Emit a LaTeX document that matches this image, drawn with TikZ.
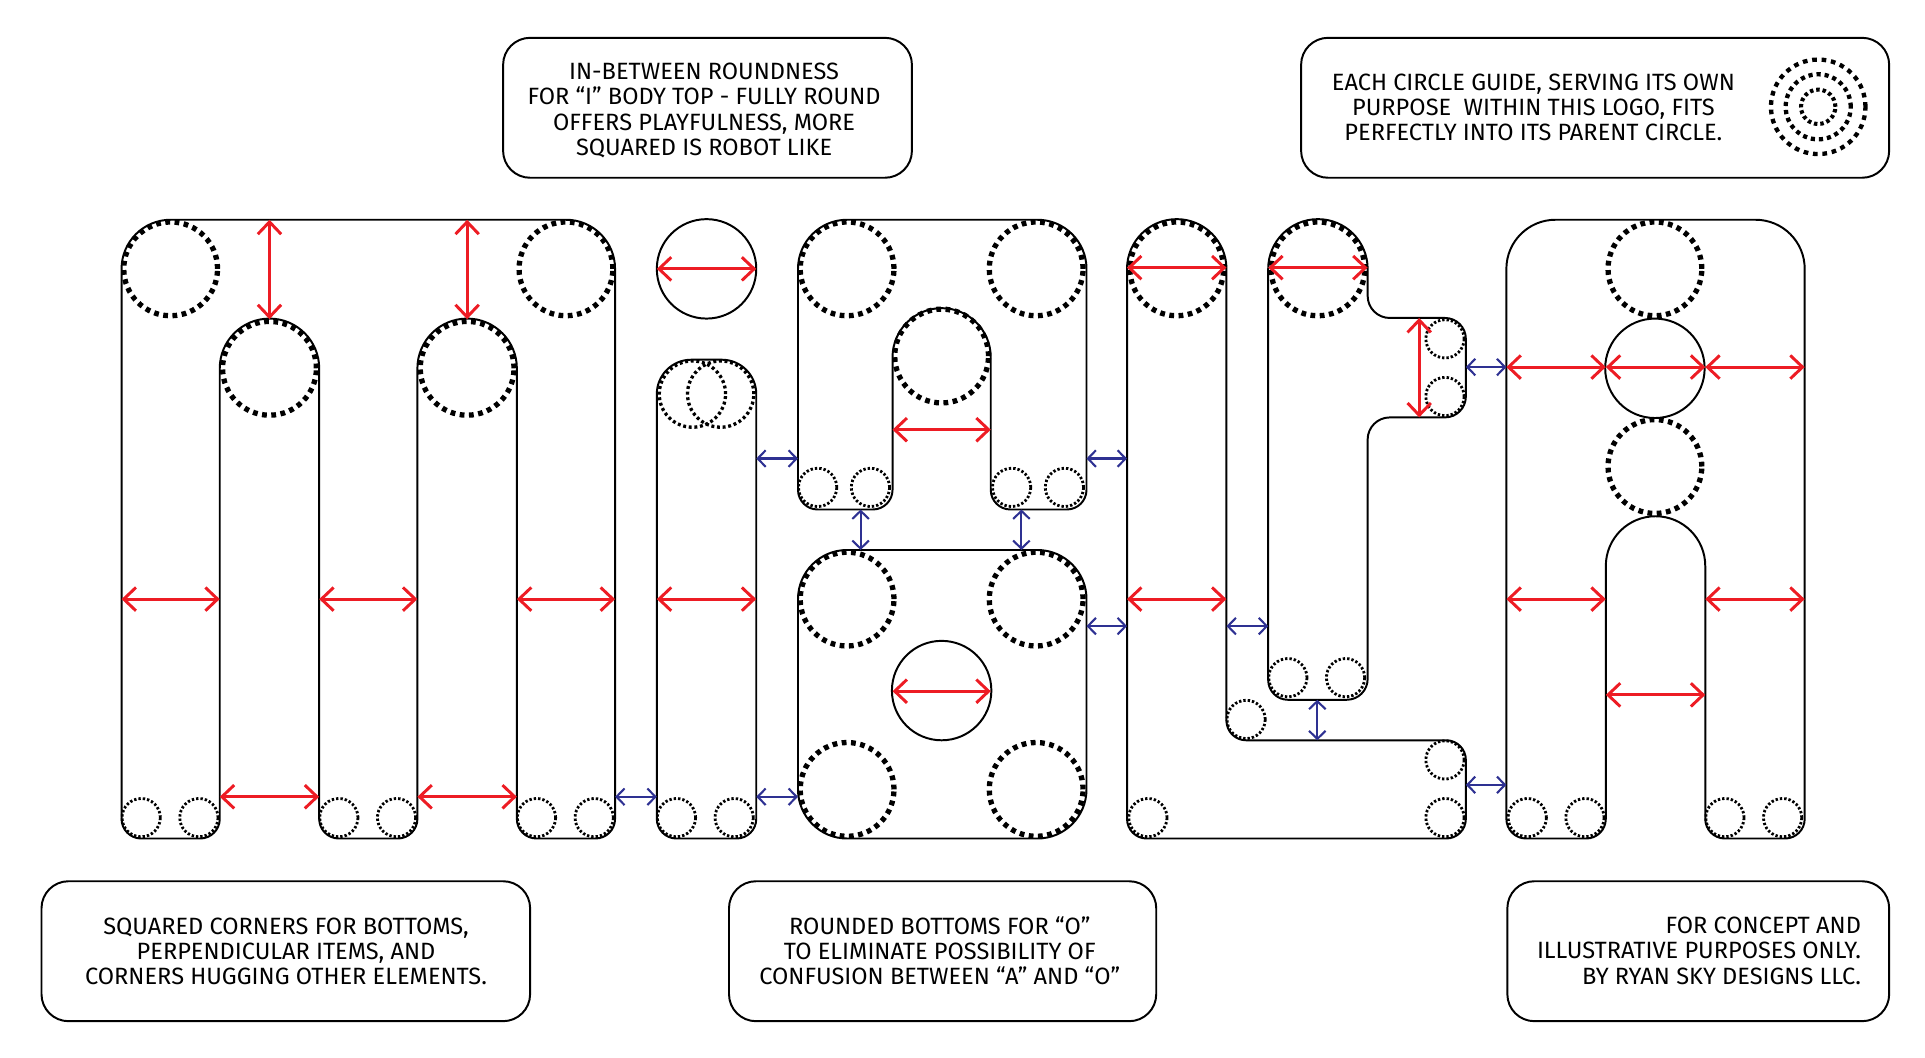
\documentclass[tikz,border=0pt]{standalone}
\usepackage{fontspec}
\setmainfont{Fira Sans}
\usetikzlibrary{arrows.meta}
\definecolor{rd}{HTML}{ED1C24}
\definecolor{bl}{HTML}{2E3192}
\newcommand\cUL[1]{arc[start angle=180,end angle=90,radius=#1pt]}
\newcommand\cRD[1]{arc[start angle=90,end angle=0,radius=#1pt]}
\newcommand\cDL[1]{arc[start angle=0,end angle=-90,radius=#1pt]}
\newcommand\cLU[1]{arc[start angle=270,end angle=180,radius=#1pt]}
\newcommand\cDR[1]{arc[start angle=180,end angle=270,radius=#1pt]}
\newcommand\cLD[1]{arc[start angle=90,end angle=180,radius=#1pt]}
\newcommand\cTop[1]{arc[start angle=0,end angle=180,radius=#1pt]}
\newcommand\cTopCW[1]{arc[start angle=180,end angle=0,radius=#1pt]}
\tikzset{
  body/.style={draw=black,line width=1.6pt,line join=round},
  capt/.style={draw=black,line width=1.6pt,rounded corners=22pt},
  bigc/.style={draw=black,line width=4.3pt,dash pattern=on 3.9pt off 3.66pt},
  midc/.style={draw=black,line width=3.5pt,dash pattern=on 3.4pt off 3.2pt},
  innerc/.style={draw=black,line width=3.3pt,dash pattern=on 2.8pt off 2.4pt},
  smallc/.style={draw=black,line width=2.3pt,dash pattern=on 1.9pt off 1.65pt},
  solidc/.style={draw=black,line width=1.6pt},
  redar/.style={draw=rd,line width=2.4pt,{Straight Barb[length=10pt,width=19pt,line width=2.4pt]}-{Straight Barb[length=10pt,width=19pt,line width=2.4pt]}},
  bluear/.style={draw=bl,line width=1.7pt,{Straight Barb[length=6.5pt,width=13.5pt,line width=1.7pt]}-{Straight Barb[length=6.5pt,width=13.5pt,line width=1.7pt]}},
  txt/.style={font=\fontsize{19.2}{20.6}\selectfont,inner sep=0pt}
}
\newcommand\BIG[2]{\path[bigc] (#1,#2) circle[radius=38.2pt];}
\newcommand\SM[2]{\path[smallc] (#1,#2) circle[radius=15.6pt];}
\newcommand\RA[4]{\path[redar] (#1,#2) -- (#3,#4);}
\newcommand\BA[4]{\path[bluear] (#1,#2) -- (#3,#4);}
\begin{document}
\begin{tikzpicture}[x=1pt,y=-1pt]
\useasboundingbox (0,0) rectangle (1568,861);
% M
\path[body] (99,667) -- (99,219) \cUL{40} -- (461,179) \cRD{40} -- (501,667) \cDL{16} -- (437,683) \cLU{16} -- (421,300) \cTop{40.5} -- (340,667) \cDL{16} -- (276,683) \cLU{16} -- (260,300) \cTop{40.5} -- (179,667) \cDL{16} -- (115,683) \cLU{16} -- cycle;
\BIG{139}{219}\BIG{219.5}{300}\BIG{380.5}{300}\BIG{461}{219}
\SM{115}{666}\SM{162}{666}\SM{276}{666}\SM{323}{666}\SM{437}{666}\SM{484}{666}
% I
\path[solidc] (575.5,219) circle[radius=40.5pt];
\path[body] (535,667) -- (535,321) \cUL{28} -- (588,293) \cRD{28} -- (616,667) \cDL{16} -- (551,683) \cLU{16} -- cycle;
\path[draw=black,line width=2.7pt,dash pattern=on 2.4pt off 2.2pt] (564,321) circle[radius=27pt];
\path[draw=black,line width=2.7pt,dash pattern=on 2.4pt off 2.2pt] (587,321) circle[radius=27pt];
\SM{551}{666}\SM{598}{666}
% A top
\path[body] (650,399) -- (650,219) \cUL{40} -- (845,179) \cRD{40} -- (885,399) \cDL{16} -- (823,415) \cLU{16} -- (807,291) \cTop{40} -- (727,399) \cDL{16} -- (666,415) \cLU{16} -- cycle;
\BIG{690}{219}\BIG{844}{219}\BIG{767}{290}
\SM{666}{397}\SM{709}{397}\SM{824}{397}\SM{867}{397}
% O
\path[body] (650,643) -- (650,488) \cUL{40} -- (845,448) \cRD{40} -- (885,643) \cDL{40} -- (690,683) \cLU{40} -- cycle;
\BIG{690}{488}\BIG{844}{488}\BIG{690}{643}\BIG{844}{643}
\path[solidc] (767,562.5) circle[radius=40.5pt];
% L
\path[body] (918,667) -- (918,219) \cTopCW{40.5} -- (999,587) \cDR{16} -- (1178,603) \cRD{16} -- (1194,667) \cDL{16} -- (934,683) \cLU{16} -- cycle;
\BIG{958.5}{219}
\SM{1015}{586}\SM{1177}{619}\SM{1177}{666}\SM{935}{666}
% T
\path[body] (1033,553) -- (1033,219) \cTopCW{40.5} -- (1114,241) \cDR{18} -- (1177,259) \cRD{17} -- (1194,323) \cDL{17} -- (1132,340) \cLD{18} -- (1114,553) \cDL{17} -- (1049,570) \cLU{16} -- cycle;
\BIG{1073.5}{219}
\SM{1177}{276}\SM{1177}{323}\SM{1049}{552}\SM{1096}{552}
% A right
\path[body] (1227,667) -- (1227,219) \cUL{40} -- (1430,179) \cRD{40} -- (1470,667) \cDL{16} -- (1405,683) \cLU{16} -- (1389,461) \cTop{40.5} -- (1308,667) \cDL{16} -- (1243,683) \cLU{16} -- cycle;
\BIG{1348}{219}\BIG{1348}{380}
\path[solidc] (1348,300) circle[radius=40.5pt];
\SM{1244}{666}\SM{1291}{666}\SM{1405}{666}\SM{1452}{666}
% red arrows
\RA{219.5}{179}{219.5}{260}\RA{380.5}{179}{380.5}{260}
\RA{99}{488}{179}{488}\RA{260}{488}{340}{488}\RA{421}{488}{501}{488}
\RA{179}{649}{260}{649}\RA{340}{649}{421}{649}
\RA{535}{219}{616}{219}\RA{535}{488}{616}{488}
\RA{727}{350}{807}{350}\RA{727}{563}{807}{563}
\RA{918}{218}{999}{218}\RA{918}{488}{999}{488}
\RA{1033}{218}{1114}{218}\RA{1156}{259}{1156}{340}
\RA{1227}{299}{1308}{299}\RA{1308}{299}{1389}{299}\RA{1389}{299}{1470}{299}
\RA{1227}{488}{1308}{488}\RA{1389}{488}{1470}{488}\RA{1308}{566}{1389}{566}
% blue arrows
\BA{501}{649}{535}{649}\BA{616}{649}{650}{649}\BA{616}{373.5}{650}{373.5}
\BA{885}{373.5}{918}{373.5}\BA{885}{510}{918}{510}\BA{999}{510}{1033}{510}
\BA{701}{415}{701}{448}\BA{832}{415}{832}{448}\BA{1073}{570}{1073}{603}
\BA{1194}{299}{1227}{299}\BA{1194}{639.3}{1227}{639.3}
% captions
\node[capt,minimum width=333pt,minimum height=114pt,anchor=north west] (c1) at (409,30) {};
\node[txt,align=center] (t1) at (573.5,90) {IN-BETWEEN ROUNDNESS\\FOR “I” BODY TOP - FULLY ROUND\\OFFERS PLAYFULNESS, MORE\\SQUARED IS ROBOT LIKE};
\node[capt,minimum width=479pt,minimum height=114pt,anchor=north west] (c2) at (1059,30) {};
\node[txt,align=center] (t2) at (1249,87.5) {EACH CIRCLE GUIDE, SERVING ITS OWN\\PURPOSE~~WITHIN THIS LOGO, FITS\\PERFECTLY INTO ITS PARENT CIRCLE.};
\path[bigc,line width=3.5pt,dash pattern=on 3.8pt off 3.9pt] (1481,87) circle[radius=38.5pt];
\path[midc] (1481,87) circle[radius=26.5pt];
\path[innerc] (1481,87) circle[radius=14pt];
\node[capt,minimum width=398pt,minimum height=114pt,anchor=north west] (c3) at (33,717) {};
\node[txt,align=center] (t3) at (233,775) {SQUARED CORNERS FOR BOTTOMS,\\PERPENDICULAR ITEMS, AND\\CORNERS HUGGING OTHER ELEMENTS.};
\node[capt,minimum width=348pt,minimum height=114pt,anchor=north west] (c4) at (593,717) {};
\node[txt,align=center] (t4) at (765.5,774.5) {ROUNDED BOTTOMS FOR “O”\\TO ELIMINATE POSSIBILITY OF\\CONFUSION BETWEEN “A” AND “O”};
\node[capt,minimum width=311pt,minimum height=114pt,anchor=north west] (c5) at (1227,717) {};
\node[txt,align=right,anchor=east] (t5) at (1516,774.5) {FOR CONCEPT AND\\ILLUSTRATIVE PURPOSES ONLY.\\BY RYAN SKY DESIGNS LLC.};
\end{tikzpicture}
\end{document}
